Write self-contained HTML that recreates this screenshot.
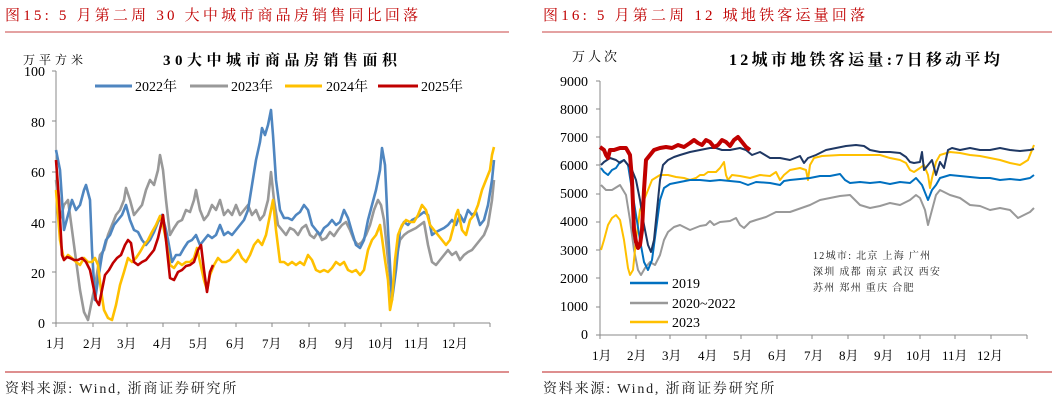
<!DOCTYPE html>
<html><head><meta charset="utf-8"><style>
body{margin:0;width:1057px;height:403px;background:#fff;overflow:hidden}
svg{display:block}
text{font-family:"Liberation Serif","Noto Serif CJK SC",serif}
</style></head><body>
<svg width="1057" height="403" viewBox="0 0 1057 403" xmlns="http://www.w3.org/2000/svg">
<g font-size="15" fill="#c00000" letter-spacing="3.2">
<text x="5" y="20">图15:  5 月第二周 30 大中城市商品房销售同比回落</text>
<text x="543" y="20">图16:  5 月第二周 12 城地铁客运量回落</text>
</g>
<line x1="5" y1="32" x2="509" y2="32" stroke="#d46a6a" stroke-width="1.2"/>
<line x1="542" y1="32" x2="1052" y2="32" stroke="#d46a6a" stroke-width="1.2"/>
<line x1="5" y1="372" x2="509" y2="372" stroke="#d46a6a" stroke-width="1.5"/>
<line x1="542" y1="372" x2="1052" y2="372" stroke="#d46a6a" stroke-width="1.5"/>
<g font-size="14" fill="#222" letter-spacing="1.8">
<text x="5" y="393">资料来源:  Wind, 浙商证券研究所</text>
<text x="543" y="393">资料来源:  Wind, 浙商证券研究所</text>
</g>

<!-- LEFT CHART -->
<text x="23" y="64" font-size="12" letter-spacing="4">万平方米</text>
<text x="163" y="65" font-size="15" font-weight="bold" letter-spacing="4.5">30大中城市商品房销售面积</text>
<g font-size="14" text-anchor="end">
<text x="45" y="76">100</text><text x="45" y="127">80</text><text x="45" y="177">60</text><text x="45" y="228">40</text><text x="45" y="278">20</text><text x="45" y="328">0</text>
</g>
<g stroke="#888" stroke-width="1">
<line x1="56" y1="71" x2="56" y2="323"/><line x1="56" y1="323" x2="490" y2="323"/>
<path d="M52 71h4M52 121h4M52 172h4M52 222h4M52 272h4M52 323h4M56 323v4M93 323v4M127 323v4M163 323v4M199 323v4M236 323v4M272 323v4M309 323v4M345 323v4M381 323v4M418 323v4M454 323v4M490 323v4"/>
</g>
<g font-size="13">
<text x="46" y="348">1月</text><text x="83" y="348">2月</text><text x="117" y="348">3月</text><text x="153" y="348">4月</text><text x="189" y="348">5月</text><text x="226" y="348">6月</text><text x="262" y="348">7月</text><text x="299" y="348">8月</text><text x="335" y="348">9月</text><text x="368" y="348">10月</text><text x="404" y="348">11月</text><text x="442" y="348">12月</text>
</g>
<g stroke-width="3" fill="none">
<line x1="95" y1="86" x2="132" y2="86" stroke="#4f86c0"/>
<line x1="190" y1="86" x2="228" y2="86" stroke="#999"/>
<line x1="285" y1="86" x2="322" y2="86" stroke="#ffc000"/>
<line x1="378" y1="86" x2="418" y2="86" stroke="#c00000"/>
</g>
<g font-size="14"><text x="135" y="91">2022年</text><text x="231" y="91">2023年</text><text x="326" y="91">2024年</text><text x="421" y="91">2025年</text></g>
<g fill="none" stroke-width="2.6" stroke-linejoin="round">
<polyline stroke="#999" points="56,180 60,220 64,205 68,200 72,230 76,260 80,290 84,312 88,320 92,300 96,280 100,255 104,250 108,235 112,225 116,215 120,210 124,200 126,188 130,200 134,215 138,210 142,205 146,190 150,180 154,185 158,170 160,155 163,170 166,200 170,235 174,228 178,222 182,220 186,210 190,212 194,200 196,190 200,210 204,220 208,215 212,205 216,210 220,200 224,215 228,210 232,215 236,205 240,215 244,210 248,205 252,215 256,210 260,220 264,215 268,200 271,172 274,200 278,225 282,230 286,235 290,228 294,230 298,235 302,228 306,225 310,235 314,238 318,232 322,240 326,238 330,232 334,236 338,230 342,225 346,222 350,230 354,240 358,245 362,242 366,235 370,225 374,210 378,200 381,205 384,220 388,260 392,295 396,260 400,240 404,235 408,232 412,230 416,228 420,225 424,222 428,245 432,262 436,265 440,260 444,255 448,250 452,255 456,252 460,260 464,255 468,252 472,250 476,245 480,240 484,235 488,225 492,200 494,180"/>
<polyline stroke="#4f86c0" points="56,150 60,170 64,230 68,215 72,200 76,210 80,205 84,190 86,185 90,200 92,250 95,300 98,280 102,255 106,240 110,235 114,225 118,220 122,215 126,205 130,220 134,230 138,232 142,240 146,245 150,240 154,232 158,222 162,215 166,230 168,240 172,262 176,255 180,255 184,248 188,242 192,240 196,235 200,245 204,240 208,235 212,238 216,235 220,225 224,235 228,232 232,235 236,230 240,225 244,220 248,210 252,185 256,160 260,142 262,128 265,135 268,125 271,110 273,135 276,180 280,210 284,218 288,218 292,220 296,215 300,212 304,205 308,210 312,225 316,230 320,235 324,228 328,225 332,220 336,225 340,222 344,210 348,218 352,232 356,245 360,248 364,240 368,220 372,205 376,190 380,170 382,148 385,165 388,230 392,300 396,270 400,230 404,222 408,225 412,220 416,218 420,215 424,212 428,215 432,235 436,232 440,230 444,228 448,225 452,220 456,225 460,215 464,222 468,210 472,215 476,212 480,225 484,220 488,205 492,180 494,160"/>
<polyline stroke="#ffc000" points="56,190 60,240 64,260 68,255 72,258 76,262 80,265 84,258 88,262 92,262 95,258 98,265 101,290 104,310 108,318 112,320 116,305 120,285 124,272 128,258 132,262 136,258 140,252 144,245 148,240 152,232 156,225 160,216 163,225 166,240 170,265 174,268 178,262 182,265 186,262 190,262 194,258 197,248 200,262 204,280 207,290 210,275 214,265 218,258 222,262 226,262 230,260 234,255 238,250 242,258 246,262 250,255 254,245 258,240 262,245 266,235 270,215 273,200 276,230 280,262 284,262 288,265 292,262 296,265 300,262 304,265 308,255 312,260 316,270 320,272 324,270 328,272 332,268 336,262 340,265 344,262 348,270 352,272 356,270 360,275 364,270 368,250 372,240 376,235 380,225 382,238 385,260 388,280 390,310 392,300 395,260 398,235 402,225 406,220 410,222 414,222 418,215 422,205 426,210 430,225 434,230 438,235 442,240 446,245 450,240 454,225 456,215 458,210 462,230 466,235 470,220 474,215 478,205 482,190 486,180 490,170 492,155 494,147"/>
<polyline stroke="#c00000" points="56,160 59,200 62,255 64,260 67,257 70,258 74,260 78,260 82,258 86,262 90,270 93,285 96,300 99,305 102,290 105,275 109,270 113,263 117,258 121,255 125,245 128,240 131,243 134,262 138,265 142,262 146,260 150,255 154,250 158,238 161,225 163,215 166,240 170,278 174,280 178,272 182,270 186,266 190,265 194,262 198,250 201,245 204,270 207,292 210,272 213,265"/>
</g>

<!-- RIGHT CHART -->
<text x="572" y="61" font-size="13" letter-spacing="3">万人次</text>
<text x="729" y="65" font-size="16" font-weight="bold" letter-spacing="3.3">12城市地铁客运量:7日移动平均</text>
<g font-size="14" text-anchor="end">
<text x="588" y="86">9000</text><text x="588" y="114">8000</text><text x="588" y="142">7000</text><text x="588" y="170">6000</text><text x="588" y="198">5000</text><text x="588" y="226">4000</text><text x="588" y="255">3000</text><text x="588" y="283">2000</text><text x="588" y="311">1000</text><text x="588" y="339">0</text>
</g>
<g stroke="#888" stroke-width="1">
<line x1="600" y1="81" x2="600" y2="335"/><line x1="600" y1="335" x2="1027" y2="335"/>
<path d="M596 81h4M596 109h4M596 137h4M596 165h4M596 194h4M596 222h4M596 250h4M596 278h4M596 307h4M596 335h4M600 335v4M636 335v4M670 335v4M706 335v4M741 335v4M777 335v4M812 335v4M848 335v4M884 335v4M920 335v4M955 335v4M991 335v4M1027 335v4"/>
</g>
<g font-size="13">
<text x="592" y="360">1月</text><text x="627" y="360">2月</text><text x="662" y="360">3月</text><text x="698" y="360">4月</text><text x="733" y="360">5月</text><text x="768" y="360">6月</text><text x="804" y="360">7月</text><text x="839" y="360">8月</text><text x="874" y="360">9月</text><text x="906" y="360">10月</text><text x="942" y="360">11月</text><text x="977" y="360">12月</text>
</g>
<g fill="none" stroke-width="2" stroke-linejoin="round">
<polyline stroke="#999" points="601,185 606,190 612,190 620,185 626,195 630,220 634,250 638,270 641,275 645,268 650,262 655,265 660,255 664,240 668,232 674,227 680,225 690,230 700,226 706,225 710,221 714,225 720,222 730,221 736,218 740,225 744,228 750,222 756,220 766,217 770,215 776,212 790,212 810,205 820,200 830,198 840,196 850,195 860,205 870,208 880,206 890,203 900,205 910,200 916,195 920,198 925,210 928,225 932,210 936,195 940,190 950,195 960,198 970,205 980,206 990,210 1000,208 1010,210 1018,218 1024,215 1030,212 1034,208"/>
<polyline stroke="#ffc000" points="601,250 604,240 608,225 612,218 616,215 620,220 624,240 628,268 630,275 633,270 636,240 640,210 644,200 648,190 652,180 660,175 668,175 676,177 684,178 690,180 696,178 700,175 704,175 708,172 716,172 720,168 724,162 726,175 728,180 732,175 740,176 750,178 760,175 770,176 776,172 780,180 784,175 790,170 800,168 806,170 808,180 810,165 814,158 822,156 840,155 860,155 880,155 890,158 900,160 906,163 910,170 914,172 920,168 924,165 926,170 928,175 930,188 932,178 936,162 940,155 950,152 960,153 970,155 980,156 990,158 1000,160 1010,163 1020,165 1028,160 1034,145"/>
<polyline stroke="#0070c0" points="601,168 604,172 608,175 612,170 616,168 620,162 624,160 628,165 632,190 636,215 640,240 644,262 648,270 652,260 656,230 660,200 664,188 670,184 680,182 690,180 700,180 710,181 720,180 730,181 740,182 748,185 756,182 770,183 780,185 784,181 790,180 800,179 810,178 820,176 830,176 840,174 845,180 850,183 860,182 870,183 880,182 890,184 900,182 910,183 916,178 922,185 928,200 932,190 936,185 940,178 950,175 960,176 970,177 980,178 990,178 1000,180 1010,179 1020,180 1030,178 1034,175"/>
<polyline stroke="#1f3864" points="601,165 604,162 610,158 616,160 620,163 624,160 628,165 632,170 636,180 640,200 644,225 648,245 651,252 654,240 657,210 660,180 663,165 668,160 674,157 680,155 690,152 700,150 710,148 716,148 722,150 730,150 740,148 746,150 752,155 760,152 770,158 780,158 790,160 800,156 804,163 808,158 816,155 826,150 836,148 846,146 856,145 864,146 870,150 880,152 890,152 900,153 906,157 910,162 914,163 920,162 922,152 924,170 928,165 932,160 936,175 940,162 944,168 948,150 952,148 960,150 970,148 980,150 990,150 1000,148 1010,150 1020,151 1030,150 1034,149"/>
<polyline stroke="#c00000" stroke-width="4" points="600,147 604,150 606,155 608,158 610,150 614,150 620,148 626,148 630,155 632,180 634,230 636,242 638,248 640,245 642,230 644,190 646,160 650,155 654,150 660,148 666,147 672,148 678,145 684,147 690,143 694,140 698,143 702,145 706,140 710,142 714,147 718,145 722,140 726,142 730,146 734,140 738,137 742,142 746,147 750,150"/>
</g>
<g stroke-width="2.5">
<line x1="630" y1="283" x2="668" y2="283" stroke="#0070c0"/>
<line x1="630" y1="303" x2="668" y2="303" stroke="#999"/>
<line x1="630" y1="322" x2="668" y2="322" stroke="#ffc000"/>
</g>
<g font-size="14"><text x="672" y="288">2019</text><text x="672" y="308">2020~2022</text><text x="672" y="327">2023</text></g>
<g font-size="10" fill="#222" letter-spacing="1.3"><text x="813" y="259">12城市: 北京 上海 广州</text><text x="813" y="275">深圳 成都 南京 武汉 西安</text><text x="813" y="291">苏州 郑州 重庆 合肥</text></g>
</svg>
</body></html>
